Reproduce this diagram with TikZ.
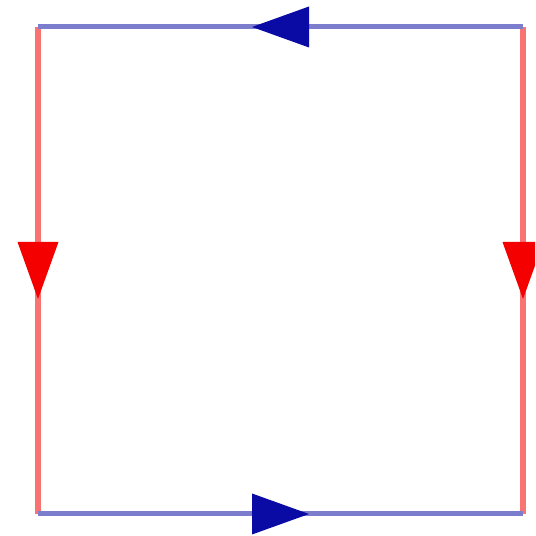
\documentclass[tikz,border=0pt]{standalone}
\usepackage{tikz}
\usetikzlibrary{decorations.markings}

\definecolor{linered}{RGB}{250,115,115}
\definecolor{lineblue}{RGB}{125,125,205}
\definecolor{tipred}{RGB}{245,0,0}
\definecolor{tipblue}{RGB}{10,10,165}

\tikzset{
  redside/.style={draw=linered,line width=0.13cm},
  blueside/.style={draw=lineblue,line width=0.1cm},
  midtip/.style={postaction={decorate,decoration={markings,
    mark=at position 0.5 with {\fill[#1] (28.5,0) -- (-28.5,20.5) -- (-28.5,-20.5) -- cycle;}}}}
}

\begin{document}
\begin{tikzpicture}[x=0.02cm,y=0.02cm]
  \useasboundingbox (0,0) rectangle (535,536);
  \clip (0,0) rectangle (535,536);
  \coordinate (tl) at (38,509);
  \coordinate (tr) at (523,509);
  \coordinate (bl) at (38,22);
  \coordinate (br) at (523,22);
  \draw[redside,midtip=tipred] (tl) -- (bl);
  \draw[redside,midtip=tipred] (tr) -- (br);
  \draw[blueside,midtip=tipblue] (tr) -- (tl);
  \draw[blueside,midtip=tipblue] (bl) -- (br);
\end{tikzpicture}
\end{document}
